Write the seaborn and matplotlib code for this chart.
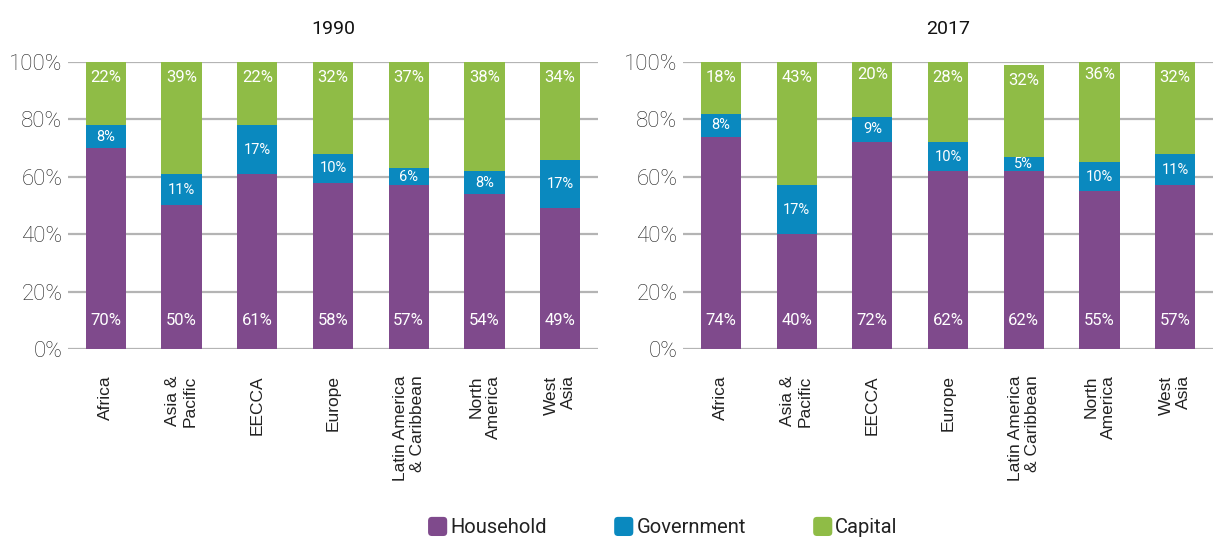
import matplotlib
matplotlib.use("Agg")
import matplotlib.pyplot as plt
from matplotlib.patches import FancyBboxPatch, Patch
from matplotlib.legend_handler import HandlerBase
import numpy as np
import pandas as pd
import seaborn as sns

# ---- data ----
regions = ["Africa", "Asia &\nPacific", "EECCA", "Europe",
           "Latin America\n& Caribbean", "North\nAmerica", "West\nAsia"]
years = ["1990", "2017"]
household_1990 = [70, 50, 61, 58, 57, 54, 49]
government_1990 = [8, 11, 17, 10, 6, 8, 17]
capital_1990 = [22, 39, 22, 32, 37, 38, 34]
household_2017 = [74, 40, 72, 62, 62, 55, 57]
government_2017 = [8, 17, 9, 10, 5, 10, 11]
capital_2017 = [18, 43, 20, 28, 32, 36, 32]
series_names = ["Household", "Government", "Capital"]

PURPLE = "#7f4a8c"
BLUE = "#0a89bf"
GREEN = "#8fbc46"
GRID = "#b4b4b4"
TEXT = "#222222"

sns.set_theme(style="white")
plt.rcParams["font.family"] = ["Roboto", "DejaVu Sans"]

fig = plt.figure(figsize=(12.14, 5.38), dpi=100)
bottom, top = 0.3513, 0.8848
ax_l = fig.add_axes([0.0560, bottom, 0.4366, top - bottom])
ax_r = fig.add_axes([0.5626, bottom, 0.4366, top - bottom])

panels = [
    (ax_l, years[0], household_1990, government_1990, capital_1990),
    (ax_r, years[1], household_2017, government_2017, capital_2017),
]

for ax, year, hh, gov, cap in panels:
    hh = np.array(hh)
    gov = np.array(gov)
    cap = np.array(cap)
    df = pd.DataFrame({
        "region": regions,
        "hh": hh,
        "hh_gov": hh + gov,
        "total": hh + gov + cap,
    })
    # stacked bars drawn as overlapping cumulative totals
    for col, color in [("total", GREEN), ("hh_gov", BLUE), ("hh", PURPLE)]:
        sns.barplot(data=df, x="region", y=col, color=color, saturation=1,
                    width=0.53, linewidth=0, ax=ax, zorder=3)

    # value labels
    for i in range(len(regions)):
        ax.text(i, 10, f"{hh[i]}%", ha="center", va="center",
                color="white", fontsize=12, zorder=5)
        ax.text(i, hh[i] + gov[i] / 2, f"{gov[i]}%", ha="center", va="center",
                color="white", fontsize=10.5, zorder=5)
        ax.text(i, hh[i] + gov[i] + cap[i] - 5.5, f"{cap[i]}%", ha="center",
                va="center", color="white", fontsize=12, zorder=5)

    ax.set_ylim(0, 100)
    ax.set_xlim(-0.5, len(regions) - 0.5)
    ax.set_yticks(range(0, 101, 20))
    ax.set_yticklabels([f"{v}%" for v in range(0, 101, 20)],
                       fontsize=16, color=TEXT, fontweight="light")
    ax.yaxis.grid(True, color=GRID, linewidth=1.6, zorder=0)
    ax.set_axisbelow(True)
    ax.tick_params(axis="y", length=0, pad=4)
    ax.tick_params(axis="x", length=0, pad=19)
    ax.set_xticks(range(len(regions)))
    ax.set_xticklabels(regions, rotation=90, ha="center", va="top",
                       multialignment="right", fontsize=12.5, color=TEXT,
                       family=["Liberation Sans", "DejaVu Sans"])
    for s in ax.spines.values():
        s.set_visible(False)
    ax.set_xlabel("")
    ax.set_ylabel("")
    ax.set_title(year, fontsize=14, color="#111111", pad=20)


class RoundSquareHandler(HandlerBase):
    def create_artists(self, legend, orig_handle, xdescent, ydescent,
                       width, height, fontsize, trans):
        size = fontsize * 0.95
        x0 = width - size - xdescent
        y0 = (height - size) / 2 - ydescent
        patch = FancyBboxPatch((x0, y0), size, size,
                               boxstyle=f"round,pad=0,rounding_size={size * 0.2}",
                               facecolor=orig_handle.get_facecolor(),
                               edgecolor="none", transform=trans)
        return [patch]


handles = [Patch(facecolor=c) for c in (PURPLE, BLUE, GREEN)]
leg = fig.legend(handles, series_names, loc="center", ncol=3,
                 bbox_to_anchor=(0.5465, 0.0186), frameon=False,
                 fontsize=14.5, handlelength=0.9, handletextpad=0.15,
                 columnspacing=3.4,
                 handler_map={Patch: RoundSquareHandler()})
for t in leg.get_texts():
    t.set_color(TEXT)

fig.savefig("out.png", dpi=100, facecolor="white")
